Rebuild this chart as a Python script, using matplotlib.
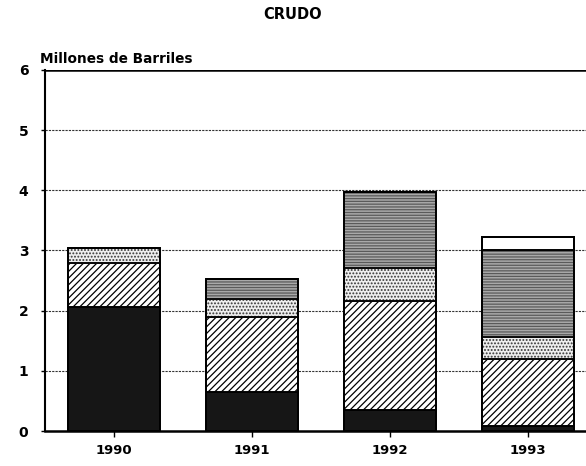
import numpy as np
import matplotlib.pyplot as plt

# data (millions of barrels)
years = ["1990", "1991", "1992", "1993"]
black = [2.06, 0.65, 0.35, 0.08]
diag = [0.73, 1.24, 1.81, 1.12]
dots = [0.25, 0.30, 0.55, 0.36]
gray = [0.00, 0.33, 1.26, 1.45]
white = [0.00, 0.00, 0.00, 0.21]

plt.rcParams['font.family'] = ['DejaVu Sans']
plt.rcParams['font.weight'] = 'bold'
plt.rcParams['hatch.linewidth'] = 0.9

fig = plt.figure(figsize=(5.86, 4.66), dpi=100)
ax = fig.add_axes([0.0768, 0.0751, 0.9232, 0.7747])

x = np.arange(len(years))
w = 0.67

# grid lines first so bars sit on top
for v in [1, 2, 3, 4, 5]:
    ax.axhline(v, color='#333333', lw=0.8, ls=(0, (2, 1)), zorder=0)
ax.axhline(6, color='black', lw=1.8, zorder=1)

bottom = np.zeros(len(years))
ax.bar(x, black, w, bottom=bottom, color='#161616', edgecolor='black', lw=1.2, zorder=2)
bottom += black
ax.bar(x, diag, w, bottom=bottom, color='white', edgecolor='black', hatch='/////', lw=1.2, zorder=2)
bottom += diag
ax.bar(x, dots, w, bottom=bottom, color='#eeeeee', edgecolor='#333333', hatch='.....', lw=1.2, zorder=2)
bottom += dots
ax.bar(x, gray, w, bottom=bottom, color='#a9a9a9', edgecolor='#5a5a5a', hatch='------', lw=1.2, zorder=2)
bottom += gray
ax.bar(x, white, w, bottom=bottom, color='white', edgecolor='black', lw=1.2, zorder=2)

# black outlines over the stacked bars
tot = bottom + np.array(white)
ax.bar(x, tot, w, color='none', edgecolor='black', lw=1.4, zorder=3)
cum = np.vstack([np.array(black), np.array(black) + diag,
                 np.array(black) + diag + dots,
                 np.array(black) + diag + dots + gray])
for i in range(len(years)):
    for c in cum[:, i]:
        if c < tot[i] - 1e-6:
            ax.plot([x[i] - w / 2, x[i] + w / 2], [c, c], color='black', lw=1.2, zorder=3)

ax.set_xlim(-0.5, 3.42)
ax.set_ylim(0, 6)
ax.set_yticks([0, 1, 2, 3, 4, 5, 6])
ax.set_xticks(x)
ax.set_xticklabels(years)
ax.tick_params(axis='y', length=3, width=1, labelsize=10, pad=9)
ax.tick_params(axis='x', length=4, width=1, labelsize=9.5, pad=5)

for s in ['top', 'right']:
    ax.spines[s].set_visible(False)
ax.spines['left'].set_linewidth(1.5)
ax.spines['bottom'].set_linewidth(1.8)

fig.text(0.499, 0.968, "CRUDO", ha='center', va='center', fontsize=10.5, fontweight='bold')
fig.text(0.068, 0.874, "Millones de Barriles", ha='left', va='center', fontsize=9.8, fontweight='bold')

fig.savefig("out.png", dpi=100)
